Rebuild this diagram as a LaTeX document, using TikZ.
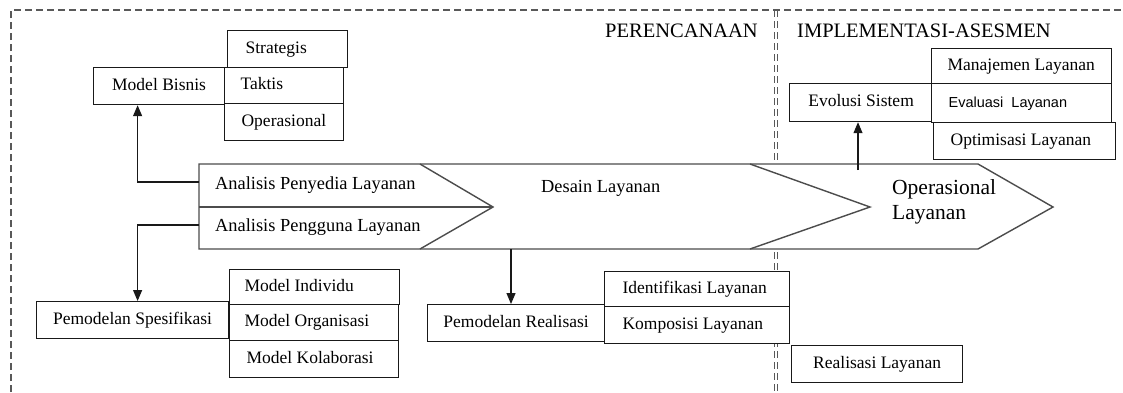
\documentclass[tikz,border=0pt]{standalone}
\usepackage{fontspec}
\setmainfont{Liberation Serif}
\newfontfamily\sansf{Liberation Sans}
\usetikzlibrary{arrows.meta,calc}
\newcommand{\lt}[2]{\makebox[#1pt][l]{#2}}
\begin{document}
\begin{tikzpicture}[x=1pt,y=-1pt,
  bx/.style={draw=black!90, line width=1.2pt, fill=white, inner sep=0pt, anchor=north west,
    text height=12pt, text depth=3.5pt, font=\fontsize{17.5}{21}\selectfont},
  lbx/.style={bx},
  cbx/.style={bx, align=center},
  big/.style={inner sep=0pt, font=\fontsize{18.4}{22}\selectfont},
  head/.style={inner sep=0pt, font=\fontsize{20.5}{24}\selectfont},
  arr/.style={draw=black!90, line width=1.2pt, -{Triangle[length=11pt,width=9pt]}},
  dsh/.style={draw=black!65, line width=1.2pt, dash pattern=on 7pt off 4pt},
  shp/.style={draw=black!70, line width=1.4pt, fill=white, line join=miter}
]
\useasboundingbox (0,0) rectangle (1123,392);
% dashed frame
\draw[dsh] (11,392) -- (11,10) -- (1123,10);
\draw[dsh, line width=1pt] (774,10) -- (774,392);
\draw[dsh, line width=1pt] (777.5,10) -- (777.5,392);

% big arrow shape
\coordinate (s1) at (199,164);
\coordinate (s2) at (978,164);
\coordinate (s3) at (1053,207);
\coordinate (s4) at (978,249);
\coordinate (s5) at (199,249);
\draw[shp] (s1) -- (s2) -- (s3) -- (s4) -- (s5) -- cycle;
\draw[shp, fill=none] (420,164) -- (493,207) -- (420,249);
\draw[shp, fill=none] (750,164) -- (870,207) -- (750,249);
\draw[shp, fill=none] (199,207) -- (493,207);

\node[big, anchor=base west] (apn) at (215,189) {Analisis Penyedia Layanan};
\node[big, anchor=base west] (agn) at (215,231) {Analisis Pengguna Layanan};
\node[big, anchor=base west] (dsn) at (541,192) {Desain Layanan};
\node[inner sep=0pt, font=\fontsize{21.5}{25}\selectfont, anchor=base west] (op1) at (892,194) {Operasional};
\node[inner sep=0pt, font=\fontsize{21.5}{25}\selectfont, anchor=base west] (op2) at (892,219) {Layanan};

% headings
\node[head, anchor=base east] (hp) at (758,37) {PERENCANAAN};
\node[head, anchor=base west] (hi) at (797,37) {IMPLEMENTASI-ASESMEN};

% Model Bisnis group
\node[cbx, minimum width=131, minimum height=37] (mb) at (93,67) {Model Bisnis};
\node[lbx, minimum height=37, inner xsep=18] (st) at (227,30) {\lt{84}{Strategis}};
\node[lbx, minimum height=36, inner xsep=16] (tk) at (224,67) {\lt{87}{Taktis}};
\node[lbx, minimum height=37, inner xsep=17] (ops) at (224,103) {\lt{85}{Operasional}};

% Spesifikasi group
\node[cbx, minimum width=192, minimum height=37] (ps) at (36,301) {Pemodelan Spesifikasi};
\node[lbx, minimum height=35, inner xsep=15] (mi) at (229,269) {\lt{140}{Model Individu}};
\node[lbx, minimum height=36, inner xsep=15] (mo) at (229,304) {\lt{139}{Model Organisasi}};
\node[lbx, minimum height=37, inner xsep=17] (mk) at (229,340) {\lt{135}{Model Kolaborasi}};

% Realisasi group
\node[cbx, minimum width=177, minimum height=37] (pr) at (427,304) {Pemodelan Realisasi};
\node[lbx, minimum height=35, inner xsep=18] (il) at (604,271) {\lt{149}{Identifikasi Layanan}};
\node[lbx, minimum height=37, inner xsep=18] (kl) at (604,306) {\lt{149}{Komposisi Layanan}};

\node[cbx, minimum width=171, minimum height=37] (rl) at (791,345) {Realisasi Layanan};

% Evolusi group
\node[cbx, minimum width=143, minimum height=38] (ev) at (789,83) {Evolusi Sistem};
\node[lbx, minimum height=35, inner xsep=16] (ml) at (931,48) {\lt{148}{Manajemen Layanan}};
\node[lbx, minimum height=39, inner xsep=17, font=\sansf\fontsize{14.5}{18}\selectfont] (el) at (931,83) {\lt{146}{Evaluasi\ \ Layanan}};
\node[lbx, minimum height=37, inner xsep=17] (ol) at (933,122) {\lt{148}{Optimisasi Layanan}};

% connectors
\coordinate (apL) at (199,182);
\coordinate (agL) at (199,225);
\coordinate (dsB) at (511,249);
\coordinate (opT) at (858,170);
\draw[arr] (apL) -| ([xshift=-21.5pt]mb.south);
\draw[arr] (agL) -| ([xshift=5pt]ps.north);
\draw[arr] (dsB) -- (dsB |- pr.north);
\draw[arr] (opT) -- (opT |- ev.south);
\end{tikzpicture}
\end{document}
